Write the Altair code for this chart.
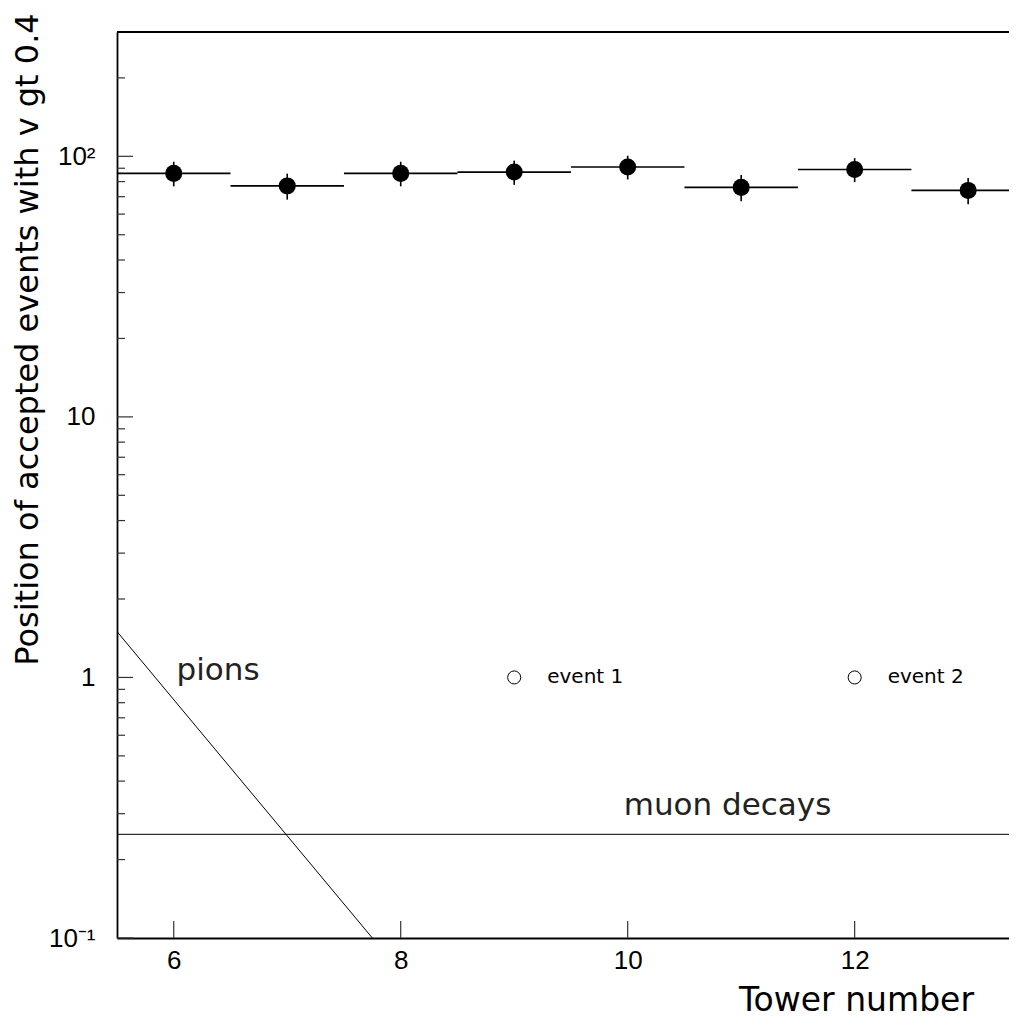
import altair as alt
import pandas as pd

# ---- data ----
towers = [6, 7, 8, 9, 10, 11, 12, 13]
counts = [86, 77, 86, 87, 91, 76, 89, 74]
errors = [9.3, 8.8, 9.3, 9.3, 9.5, 8.7, 9.4, 8.6]
bin_half = 0.5

pion_x = [5.5, 7.75]
pion_y = [1.5, 0.1]
muon_x = [5.5, 13.5]
muon_y = [0.25, 0.25]

events_x = [9, 12]
events_y = [1, 1]
events_label = ["event 1", "event 2"]

annot_text = ["pions", "muon decays"]
annot_x = [6.39, 10.88]
annot_y = [0.98, 0.297]

x_domain = [5.5, 13.36]
y_domain = [0.1, 300]
xtick_values = [6, 8, 10, 12]
ytick_values = [0.1, 1, 10, 100]
ytick_labels = ["10⁻¹", "1", "10", "10²"]
yminor_values = [0.2, 0.3, 0.4, 0.5, 0.6, 0.7, 0.8, 0.9,
                 2, 3, 4, 5, 6, 7, 8, 9,
                 20, 30, 40, 50, 60, 70, 80, 90,
                 200]

W, H = 892, 906

# ---- tables ----
df = pd.DataFrame({"tower": towers, "count": counts, "err": errors})
df["x0"] = df["tower"] - bin_half
df["x1"] = df["tower"] + bin_half
df["lo"] = df["count"] - df["err"]
df["hi"] = df["count"] + df["err"]

pions = pd.DataFrame({"x": pion_x, "y": pion_y})
muons = pd.DataFrame({"x": muon_x, "y": muon_y})
events = pd.DataFrame({"x": events_x, "y": events_y, "label": events_label})
annots = pd.DataFrame({"x": annot_x, "y": annot_y, "text": annot_text})
ymaj = pd.DataFrame({"v": ytick_values})
ymin = pd.DataFrame({"v": yminor_values})
xmaj = pd.DataFrame({"v": xtick_values})
top_border = pd.DataFrame({"v": [y_domain[1]]})

xs = alt.Scale(domain=x_domain, nice=False, zero=False)
ys = alt.Scale(type="log", domain=y_domain, nice=False)

label_expr = " : ".join(
    f"datum.value > {v * 0.9} && datum.value < {v * 1.1} ? '{l}'"
    for v, l in zip(ytick_values, ytick_labels)
) + " : ''"

x_axis = alt.Axis(values=xtick_values, ticks=False, domain=True,
                  domainColor="black", domainWidth=1.8, grid=False,
                  labelFont="Liberation Sans", labelFontSize=26, labelColor="black",
                  labelPadding=9, labelFlush=False, labelOverlap=False,
                  title="Tower number", titleFont="DejaVu Sans", titleFontSize=33,
                  titleFontWeight="normal", titleColor="black",
                  titleX=739, titleY=72, titleAlign="center",
                  titleBaseline="alphabetic", titleAnchor="start")
y_axis = alt.Axis(values=ytick_values, labelExpr=label_expr, ticks=False,
                  domain=True, domainColor="black", domainWidth=1.8, grid=False,
                  labelFont="Liberation Sans", labelFontSize=26, labelColor="black",
                  labelPadding=22, labelFlush=False, labelOverlap=False,
                  labelBaseline="middle",
                  title="Position of accepted events with v gt 0.4",
                  titleFont="DejaVu Sans", titleFontSize=32,
                  titleFontWeight="normal", titleColor="black",
                  titleAngle=-90, titleX=-80, titleY=307, titleAlign="center",
                  titleBaseline="alphabetic", titleAnchor="start")


def X(f):
    return alt.X(f, type="quantitative", scale=xs, axis=x_axis)


def Y(f):
    return alt.Y(f, type="quantitative", scale=ys, axis=y_axis)


bins = alt.Chart(df).mark_rule(color="black", strokeWidth=1.6, clip=True).encode(
    x=X("x0:Q"), x2="x1:Q", y=Y("count:Q"))
errs = alt.Chart(df).mark_rule(color="black", strokeWidth=1.6).encode(
    x=X("tower:Q"), y=Y("lo:Q"), y2="hi:Q")
pts = alt.Chart(df).mark_point(shape="circle", filled=True, size=290,
                               color="black", opacity=1).encode(
    x=X("tower:Q"), y=Y("count:Q"))
pion_line = alt.Chart(pions).mark_line(color="black", strokeWidth=1, clip=True).encode(
    x=X("x:Q"), y=Y("y:Q"))
muon_line = alt.Chart(muons).mark_line(color="black", strokeWidth=1, clip=True).encode(
    x=X("x:Q"), y=Y("y:Q"))
ev_pts = alt.Chart(events).mark_point(shape="circle", filled=False, size=170,
                                      stroke="black", strokeWidth=1, opacity=1).encode(
    x=X("x:Q"), y=Y("y:Q"))
ev_txt = alt.Chart(events).mark_text(align="left", baseline="middle", dx=33,
                                     font="DejaVu Sans", fontSize=20,
                                     color="black").encode(
    x=X("x:Q"), y=Y("y:Q"), text="label:N")
ann_txt = alt.Chart(annots).mark_text(align="center", baseline="alphabetic",
                                      font="DejaVu Sans", fontSize=31,
                                      color="#222").encode(
    x=X("x:Q"), y=Y("y:Q"), text="text:N")
ymaj_t = alt.Chart(ymaj).mark_rule(color="#333", strokeWidth=1.2).encode(
    y=Y("v:Q"), x=alt.value(0), x2=alt.value(16))
ymin_t = alt.Chart(ymin).mark_rule(color="#333", strokeWidth=1.2).encode(
    y=Y("v:Q"), x=alt.value(0), x2=alt.value(8))
xmaj_t = alt.Chart(xmaj).mark_rule(color="#333", strokeWidth=1.2).encode(
    x=X("v:Q"), y=alt.value(H), y2=alt.value(H - 17))
top_line = alt.Chart(top_border).mark_rule(color="black", strokeWidth=1.8).encode(
    y=Y("v:Q"), x=alt.value(0), x2=alt.value(W))

chart = alt.layer(bins, errs, pts, pion_line, muon_line, ev_pts, ev_txt, ann_txt,
                  ymaj_t, ymin_t, xmaj_t, top_line).properties(
    width=W, height=H,
    autosize=alt.AutoSizeParams(type="none"),
    padding={"left": 109, "top": 24, "right": 0, "bottom": 80},
).configure_view(strokeWidth=0)

chart.save("out.html", embed_options={"renderer": "svg", "actions": False})
